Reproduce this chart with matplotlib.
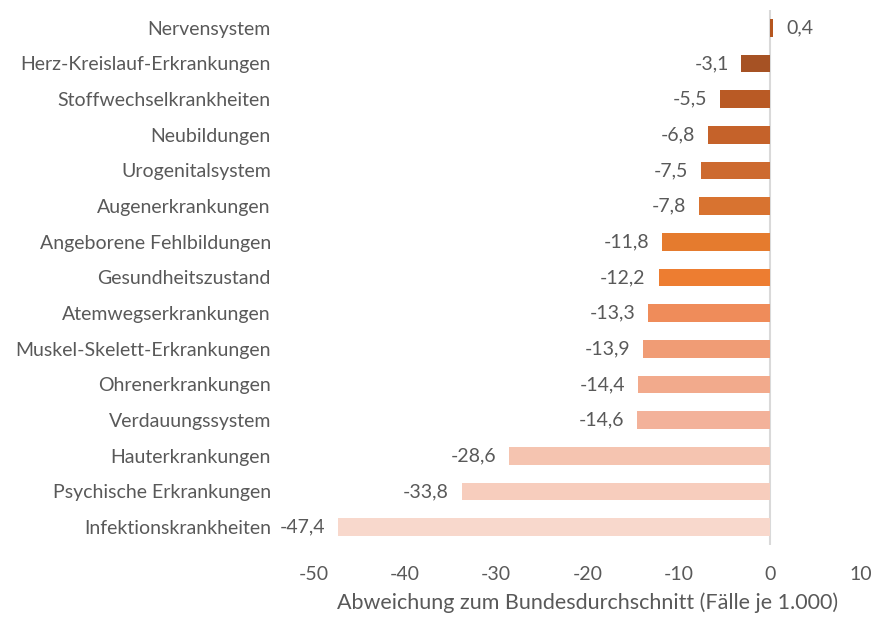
import matplotlib
matplotlib.use('Agg')
import matplotlib.pyplot as plt

# Daten (von oben nach unten)
kategorien = [
    "Nervensystem", "Herz-Kreislauf-Erkrankungen", "Stoffwechselkrankheiten",
    "Neubildungen", "Urogenitalsystem", "Augenerkrankungen",
    "Angeborene Fehlbildungen", "Gesundheitszustand", "Atemwegserkrankungen",
    "Muskel-Skelett-Erkrankungen", "Ohrenerkrankungen", "Verdauungssystem",
    "Hauterkrankungen", "Psychische Erkrankungen", "Infektionskrankheiten",
]
werte = [0.4, -3.1, -5.5, -6.8, -7.5, -7.8, -11.8, -12.2, -13.3, -13.9,
         -14.4, -14.6, -28.6, -33.8, -47.4]
farben = ["#B5561F", "#A65224", "#B95A25", "#C5622A", "#CD6A2F", "#D87330",
          "#E57B2E", "#ED7D31", "#EF8C5A", "#F09C75", "#F2AA8C", "#F3B29A",
          "#F5C4B0", "#F7CDBD", "#F8D8CC"]
x_ticks = [-50, -40, -30, -20, -10, 0, 10]

TEXT = "#595959"
plt.rcParams['font.family'] = ['Lato', 'DejaVu Sans']

fig = plt.figure(figsize=(8.82, 6.21), dpi=100)
ax = fig.add_axes([0.356, 0.1224, 0.62, 0.8616])

pos = list(range(len(kategorien)))
ax.barh(pos, werte, height=0.5, color=farben, zorder=2)
ax.axvline(0, color="#D9D9D9", lw=1.5, zorder=1)

for y, v in zip(pos, werte):
    txt = f"{v:.1f}".replace(".", ",")
    if v >= 0:
        ax.text(v + 1.4, y, txt, va="center", ha="left", fontsize=14, color=TEXT)
    else:
        ax.text(v - 1.4, y, txt, va="center", ha="right", fontsize=14, color=TEXT)

ax.set_xlim(-50, 10)
ax.set_ylim(len(kategorien) - 0.5, -0.5)
ax.set_xticks(x_ticks)
ax.set_xticklabels([str(t) for t in x_ticks], fontsize=14, color=TEXT)
ax.set_yticks(pos)
ax.set_yticklabels(kategorien, fontsize=14, color=TEXT)
ax.tick_params(axis="both", length=0)
ax.tick_params(axis="x", pad=15)
ax.tick_params(axis="y", pad=31)
for s in ax.spines.values():
    s.set_visible(False)
ax.set_xlabel("Abweichung zum Bundesdurchschnitt (Fälle je 1.000)",
              fontsize=15.5, color=TEXT, labelpad=7)

fig.savefig("out.png", dpi=100)
